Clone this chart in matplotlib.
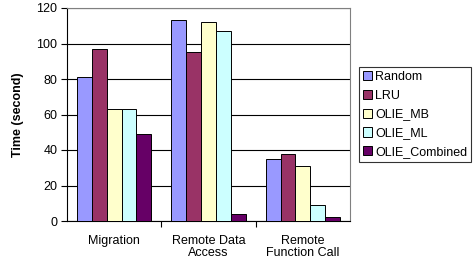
import matplotlib
matplotlib.use("Agg")
import matplotlib.pyplot as plt
import numpy as np

categories = ["Migration", "Remote Data\nAccess", "Remote\nFunction Call"]
series = ["Random", "LRU", "OLIE_MB", "OLIE_ML", "OLIE_Combined"]
random_vals = [81, 113, 35]
lru_vals = [97, 95, 38]
olie_mb_vals = [63, 112, 31]
olie_ml_vals = [63, 107, 9]
olie_comb_vals = [49, 4, 2]
colors = ["#9999FF", "#993366", "#FFFFCC", "#CCFFFF", "#660066"]
yticks = [0, 20, 40, 60, 80, 100, 120]

plt.rcParams['font.family'] = ['Liberation Sans', 'DejaVu Sans']
fig = plt.figure(figsize=(4.76, 2.70), dpi=100)
ax = fig.add_axes([67/476, 1 - 221/270, (350-67)/476, (221-8)/270])

data = [random_vals, lru_vals, olie_mb_vals, olie_ml_vals, olie_comb_vals]
x = np.arange(len(categories))
w = 0.157
for i, (name, vals, c) in enumerate(zip(series, data, colors)):
    ax.bar(x + (i - 2) * w, vals, width=w, color=c, edgecolor="black",
           linewidth=0.7, label=name, zorder=3)

ax.set_xlim(-0.5, 2.5)
ax.set_ylim(0, 120)
ax.set_yticks(yticks)
ax.set_yticklabels([str(t) for t in yticks], fontsize=9)
ax.yaxis.grid(True, color="black", linewidth=0.8, zorder=0)
ax.set_axisbelow(True)
ax.set_xticks(x)
ax.set_xticklabels(categories, fontsize=9, linespacing=1.05)
ax.tick_params(axis='x', length=0, pad=10)
ax.set_xticks([0.5, 1.5], minor=True)
ax.tick_params(axis='x', which='minor', length=4, direction='out', width=0.8)
ax.tick_params(axis='y', length=4, direction='out', width=0.8, pad=3)
ax.set_ylabel("Time (second)", fontsize=9, fontweight='bold', labelpad=9)

for s in ["top", "right"]:
    ax.spines[s].set_color("#808080")
    ax.spines[s].set_linewidth(0.8)
for s in ["left", "bottom"]:
    ax.spines[s].set_color("black")
    ax.spines[s].set_linewidth(0.8)

leg = fig.legend(loc="upper left", bbox_to_anchor=(359/476, 1 - 67/270),
                 fontsize=9, frameon=True, fancybox=False, edgecolor="black",
                 handlelength=0.75, handleheight=0.75, handletextpad=0.25,
                 borderpad=0.3, labelspacing=0.55, borderaxespad=0)
leg.get_frame().set_linewidth(0.8)

fig.savefig("out.png", dpi=100)
